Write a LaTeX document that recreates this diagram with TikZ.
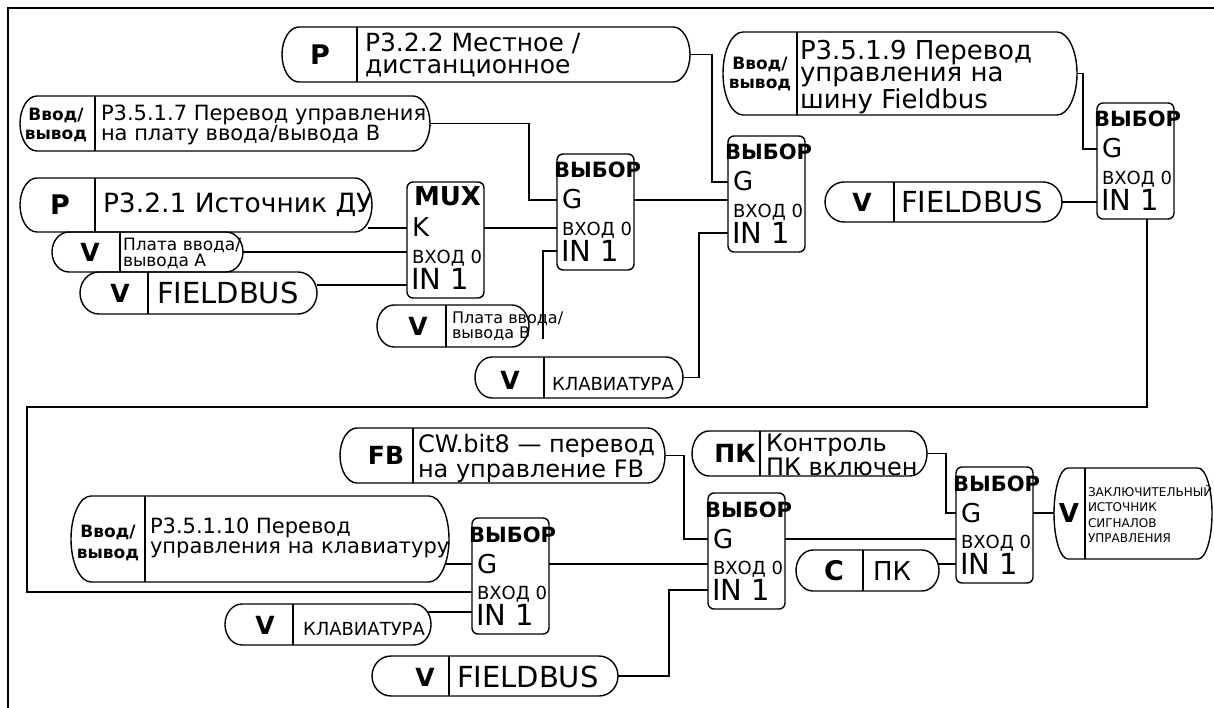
\documentclass[tikz,border=0pt]{standalone}
\usepackage{fontspec}
\setmainfont{DejaVu Sans}
\usetikzlibrary{calc}
\newcommand\fs[2]{\fontsize{#1}{#2}\selectfont}
\tikzset{
  wire/.style={line width=1.4pt},
  outl/.style={line width=1.4pt},
  frameline/.style={line width=1.6pt},
  blockbox/.style={draw, line width=1.4pt, rounded corners=6pt, inner sep=0pt, outer sep=0pt, anchor=north west, minimum width=77pt, minimum height=116pt},
  lbl/.style={inner sep=0pt, outer sep=0pt, anchor=base west},
  ctr/.style={inner sep=0pt, outer sep=0pt, anchor=center, align=center},
  ml/.style={inner sep=0pt, outer sep=0pt, anchor=west, align=left},
  tag/.style={ctr, font=\bfseries\fs{25}{25}},
}
% pill: [rx] name x1 y1 x2 y2 xdiv
\newcommand\pillbox[7][17]{%
  \node[inner sep=0pt, outer sep=0pt, minimum width={(#5-#3)*1pt}, minimum height={(#6-#4)*1pt}, anchor=north west] (#2) at (#3,#4) {};
  \pgfmathsetmacro\pry{(#6-#4)/2}%
  \draw[outl] (#3+#1,#4) -- (#5-#1,#4)
     arc[start angle=90, end angle=-90, x radius={#1*1pt}, y radius={\pry*1pt}]
     -- (#3+#1,#6)
     arc[start angle=270, end angle=90, x radius={#1*1pt}, y radius={\pry*1pt}] -- cycle;
  \draw[outl] (#7,#4) -- (#7,#6);
}
% block: name x y title titledx titlesize second
\newcommand\selblock[7]{%
  \node[blockbox] (#1) at (#2,#3) {};
  \node[lbl, font=\bfseries\fs{#6}{#6}] (#1-t) at (#2+#5,#3+24) {#4};
  \node[lbl, font=\fs{26}{26}] (#1-a) at (#2+5,#3+55) {#7};
  \node[lbl, font=\fs{18}{18}] (#1-b) at (#2+5,#3+81.5) {ВХОД 0};
  \node[lbl, font=\fs{29}{29}] (#1-c) at (#2+4,#3+107.5) {IN 1};
  \coordinate (#1-g) at (#2,#3+46);
  \coordinate (#1-in0) at (#2,#3+74);
  \coordinate (#1-in1) at (#2,#3+97);
  \coordinate (#1-out) at (#2+77,#3+46);
}
\begin{document}
\begin{tikzpicture}[x=1pt,y=-1pt]
\useasboundingbox (0,0) rectangle (1214,708);
\coordinate (fA) at (8,708);
\coordinate (fB) at (8,8);
\coordinate (fC) at (1214,8);
\draw[frameline] (fA) -- (fB) -- (fC);

% ---------- blocks ----------
\selblock{mux}{407}{182}{MUX}{7}{26}{K}
\selblock{s1}{557}{154}{ВЫБОР}{-3}{21}{G}
\selblock{s2}{728}{136}{ВЫБОР}{-3}{21}{G}
\selblock{s3}{1097}{103}{ВЫБОР}{-3}{21}{G}
\selblock{s4}{472}{518}{ВЫБОР}{-3}{21}{G}
\selblock{s5}{708}{493}{ВЫБОР}{-3}{21}{G}
\selblock{s6}{956}{467}{ВЫБОР}{-3}{21}{G}

% ---------- pills, top ----------
\pillbox{pP322}{282}{27}{690}{82}{357}
\node[tag, font=\bfseries\fs{27}{27}] (pP322-l) at (320,55) {P};
\node[ml, font=\fs{25}{22}] (pP322-r) at (365,55) {P3.2.2 Местное /\\дистанционное};

\pillbox{pIO7}{20}{96}{430}{151}{95}
\node[ctr, font=\bfseries\fs{17}{19}] (pIO7-l) at (56,125) {Ввод/\\вывод};
\node[ml, font=\fs{21}{18}] (pIO7-r) at (101,125) {P3.5.1.7 Перевод управления\\на плату ввода/вывода B};

\pillbox{pP321}{20}{178}{372}{232}{95}
\node[tag, font=\bfseries\fs{27}{27}] (pP321-l) at (60,205) {P};
\node[ml, font=\fs{26.5}{26.5}] (pP321-r) at (103,205) {P3.2.1 Источник ДУ};

\pillbox{pVA}{52}{232}{243}{272}{120}
\node[tag] (pVA-l) at (90,252) {V};
\node[ml, font=\fs{17}{16}] (pVA-r) at (123,253) {Плата ввода/\\вывода A};

\pillbox[19]{pVF1}{80}{272}{317}{314}{148}
\node[tag] (pVF1-l) at (120,293) {V};
\node[ml, font=\fs{29}{29}] (pVF1-r) at (157,293) {FIELDBUS};

\pillbox{pVB}{377}{305}{529}{347}{446}
\node[tag] (pVB-l) at (418,326) {V};
\node[ml, font=\fs{16}{15}] (pVB-r) at (452,326) {Плата ввода/\\вывода B};

\pillbox{pVK1}{475}{357}{683}{398}{544}
\node[tag] (pVK1-l) at (510,380) {V};
\node[ml, font=\fs{18}{18}] (pVK1-r) at (552,384) {КЛАВИАТУРА};

\pillbox[20]{pIO9}{723}{32}{1077}{115}{797}
\node[ctr, font=\bfseries\fs{17}{19}] (pIO9-l) at (760,74) {Ввод/\\вывод};
\node[ml, font=\fs{26}{22}] (pIO9-r) at (800,77) {P3.5.1.9 Перевод\\управления на\\шину Fieldbus};

\pillbox[19]{pVF2}{825}{182}{1062}{222}{894}
\node[tag] (pVF2-l) at (862,202) {V};
\node[ml, font=\fs{29}{29}] (pVF2-r) at (901,202) {FIELDBUS};

% ---------- pills, bottom ----------
\pillbox{pFB}{340}{428}{665}{483}{413}
\node[tag, font=\bfseries\fs{25}{25}] (pFB-l) at (386,455) {FB};
\node[ml, font=\fs{24}{25}] (pFB-r) at (418,458) {CW.bit8 — перевод\\на управление FB};

\pillbox[20]{pIO10}{71}{496}{449}{582}{145}
\node[ctr, font=\bfseries\fs{17}{21}] (pIO10-l) at (108,543) {Ввод/\\вывод};
\node[ml, font=\fs{21}{20}] (pIO10-r) at (150,538) {P3.5.1.10 Перевод\\управления на клавиатуру};

\pillbox{pVK2}{225}{604}{431}{645}{293}
\node[tag] (pVK2-l) at (265,625) {V};
\node[ml, font=\fs{18}{18}] (pVK2-r) at (303,629) {КЛАВИАТУРА};

\pillbox[19]{pVF3}{372}{656}{618}{696}{449}
\node[tag] (pVF3-l) at (425,677) {V};
\node[ml, font=\fs{29}{29}] (pVF3-r) at (457,677) {FIELDBUS};

\pillbox{pPK}{692}{431}{927}{476}{760}
\node[tag, font=\bfseries\fs{25}{25}] (pPK-l) at (735,453) {ПК};
\node[ml, font=\fs{24}{19}] (pPK-r) at (766,455) {Контроль\\ПК включен};

\pillbox{pC}{796}{550}{939}{591}{863}
\node[tag, font=\bfseries\fs{27}{27}] (pC-l) at (834,571) {C};
\node[ml, font=\fs{26}{26}] (pC-r) at (873,571) {ПК};

\pillbox[14]{pFin}{1054}{468}{1212}{559}{1085}
\node[tag, font=\bfseries\fs{26}{26}] (pFin-l) at (1069,513) {V};
\node[ml, font=\fs{12}{15.3}] (pFin-r) at (1088,514) {ЗАКЛЮЧИТЕЛЬНЫЙ\\ИСТОЧНИК\\СИГНАЛОВ\\УПРАВЛЕНИЯ};

% ---------- wires, top ----------
\draw[wire] ($(pP321.east |- mux-g)+(-4,0)$) -- (mux-g);
\draw[wire] (pVA.east) -- (pVA.east -| mux.west);
\draw[wire] ($(pVF1.east |- mux-in1)+(0,6)$) -- ($(mux-in1)+(0,6)$);
\draw[wire] (mux-out) -- (mux-out -| s1.west);
\draw[wire] (pIO7.east) -- ++(99,0) |- (s1-g);
\coordinate (vbEnd) at (543,339);
\draw[wire] (s1-in1) -| (vbEnd);
\draw[wire] (s1-out) -- (s1-out -| s2.west);
\draw[wire] (pP322.east) -- ++(22,0) |- (s2-g);
\draw[wire] (pVK1.east) -- ++(16,0) |- (s2-in1);
\draw[wire] (pIO9.east) -- ++(6,0) |- (s3-g);
\draw[wire] (pVF2.east) -- (pVF2.east -| s3.west);

% ---------- long loop ----------
\coordinate (loopL) at (27,407);
\draw[wire] ($(s3.south)+(11.5,0)$) |- (loopL) |- (s4-in0);

% ---------- wires, bottom ----------
\draw[wire] ($(pIO10.east |- s4-g)+(-3,0)$) -- (s4-g);
\draw[wire] ($(pVK2.east |- s4-in1)+(-3,-3)$) -- ($(s4-in1)+(0,-3)$);
\draw[wire] (s4-out) -- (s4-out -| s5.west);
\draw[wire] (pFB.east) -- ++(19,0) |- (s5-g);
\draw[wire] (pVF3.east) -- ++(51,0) |- (s5-in1);
\draw[wire] (s5-out) -- (s5-out -| s6.west);
\draw[wire] (pPK.east) -- ++(19,0) |- (s6-g);
\draw[wire] ($(pC.east |- s6-in1)+(-1,0)$) -- (s6-in1);
\draw[wire] (s6-out) -- (s6-out -| pFin.west);
\end{tikzpicture}
\end{document}
